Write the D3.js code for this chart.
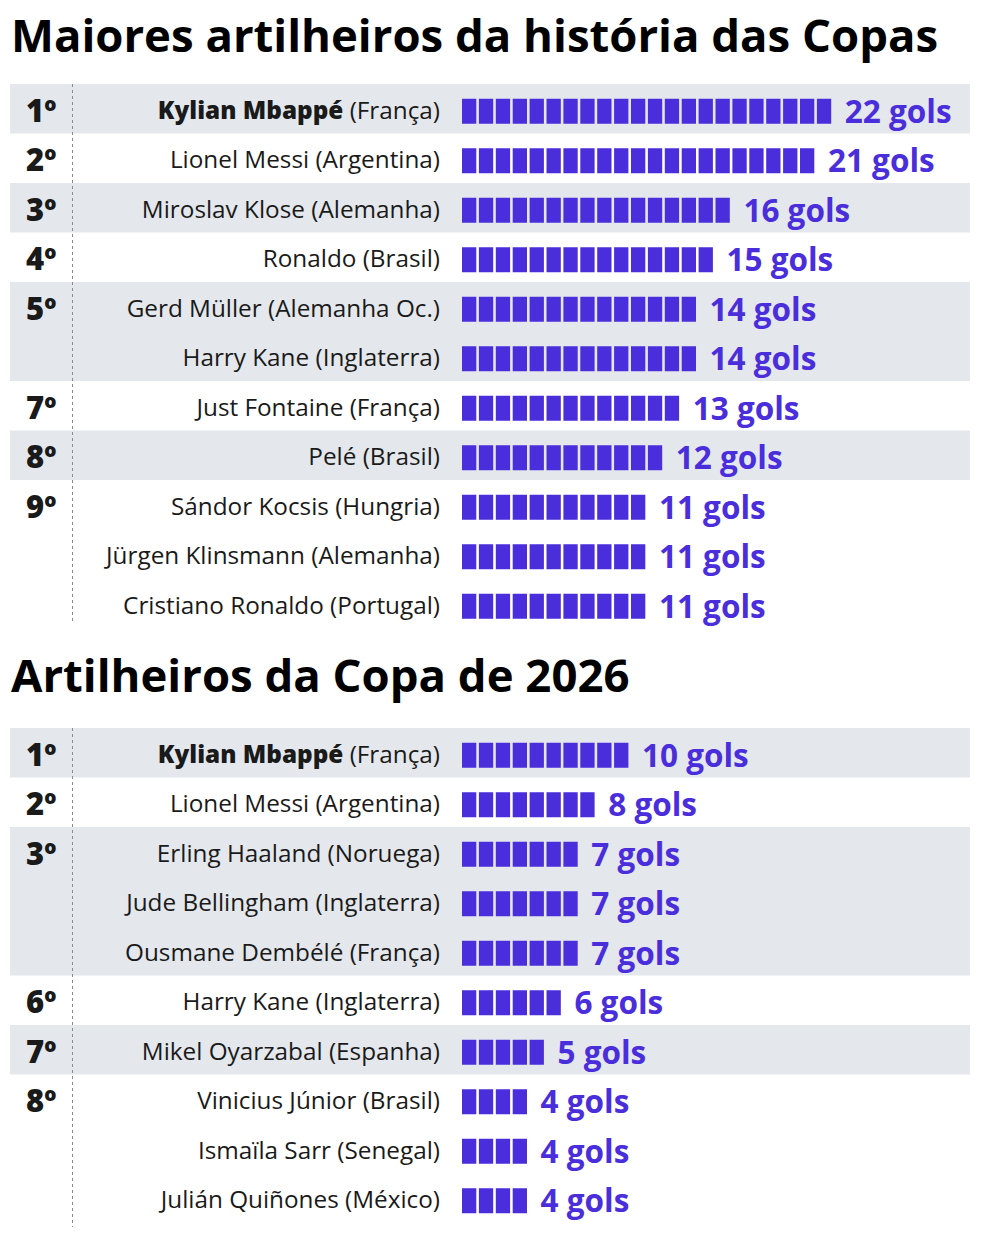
<!DOCTYPE html>
<html>
<head>
<meta charset="utf-8">
<script src="https://cdn.jsdelivr.net/npm/d3@7"></script>
<style>
  body { margin: 0; background: #fff; }
  text { font-family: "Open Sans", sans-serif; }
</style>
</head>
<body>
<div class="chart"></div>
<script>
// section 1: all-time World Cup top scorers
const allTimeRanks = ["1º", "2º", "3º", "4º", "5º", "", "7º", "8º", "9º", "", ""];
const allTimeNames = ["Kylian Mbappé", "Lionel Messi", "Miroslav Klose", "Ronaldo", "Gerd Müller", "Harry Kane",
    "Just Fontaine", "Pelé", "Sándor Kocsis", "Jürgen Klinsmann", "Cristiano Ronaldo"];
const allTimeCountries = ["França", "Argentina", "Alemanha", "Brasil", "Alemanha Oc.", "Inglaterra",
    "França", "Brasil", "Hungria", "Alemanha", "Portugal"];
const allTimeGoals = [22, 21, 16, 15, 14, 14, 13, 12, 11, 11, 11];
const allTimeGroup = [0, 1, 2, 3, 4, 4, 5, 6, 7, 7, 7];

// section 2: 2026 Cup top scorers
const cupRanks = ["1º", "2º", "3º", "", "", "6º", "7º", "8º", "", ""];
const cupNames = ["Kylian Mbappé", "Lionel Messi", "Erling Haaland", "Jude Bellingham", "Ousmane Dembélé",
    "Harry Kane", "Mikel Oyarzabal", "Vinicius Júnior", "Ismaïla Sarr", "Julián Quiñones"];
const cupCountries = ["França", "Argentina", "Noruega", "Inglaterra", "França",
    "Inglaterra", "Espanha", "Brasil", "Senegal", "México"];
const cupGoals = [10, 8, 7, 7, 7, 6, 5, 4, 4, 4];
const cupGroup = [0, 1, 2, 2, 2, 3, 4, 5, 5, 5];

const titles = ["Maiores artilheiros da história das Copas", "Artilheiros da Copa de 2026"];

/* Dimensions */
const width = 984;
const height = 1237;
const rowH = 49.5;
const barColor = "#4a2edb";
const bandColor = "#e4e8ec";

const svg = d3.select(".chart")
    .append("svg")
    .attr("width", width)
    .attr("height", height);

// one unit of goals = one block
const xScale = d3.scaleLinear()
    .domain([0, 22])
    .range([462, 462 + 22 * 16.9]);

function drawSection(title, titleY, top, ranks, names, countries, goals, groups, lineEnd) {
    const n = names.length;
    const rows = d3.range(n).map(i => ({
        rank: ranks[i], name: names[i], country: countries[i], goals: goals[i], group: groups[i], i: i
    }));

    const yScale = d3.scaleBand()
        .domain(d3.range(n))
        .range([top, top + n * rowH]);

    // title
    svg.append("text")
        .attr("x", 11)
        .attr("y", titleY)
        .style("font-size", "45.5px")
        .style("font-weight", "bold")
        .style("fill", "#000")
        .text(title);

    // background bands, alternate per rank group
    const g = svg.append("g");
    const groupIds = Array.from(new Set(groups));
    groupIds.forEach((gid, k) => {
        if (k % 2 !== 0) return;
        const members = rows.filter(d => d.group === gid);
        const y0 = yScale(members[0].i);
        const y1 = yScale(members[members.length - 1].i) + yScale.bandwidth();
        g.append("rect")
            .attr("x", 10)
            .attr("y", y0)
            .attr("width", 960)
            .attr("height", y1 - y0)
            .attr("fill", bandColor);
    });

    // dashed separator
    svg.append("line")
        .attr("x1", 72.5)
        .attr("x2", 72.5)
        .attr("y1", top)
        .attr("y2", lineEnd)
        .attr("stroke", "#8a8a8a")
        .attr("stroke-width", 1)
        .attr("stroke-dasharray", "3,3");

    const row = svg.selectAll(null)
        .data(rows)
        .enter()
        .append("g")
        .attr("transform", d => `translate(0,${yScale(d.i) + yScale.bandwidth() / 2})`);

    // rank
    row.append("text")
        .attr("x", 26)
        .attr("y", 0)
        .attr("dy", "0.42em")
        .style("font-size", "31px")
        .style("font-weight", 800)
        .style("fill", "#1a1a1a")
        .text(d => d.rank);

    // name (country)
    const label = row.append("text")
        .attr("x", 440)
        .attr("y", 0)
        .attr("dy", "0.42em")
        .attr("text-anchor", "end")
        .style("font-size", "24.3px")
        .style("fill", "#1a1a1a");
    label.append("tspan")
        .style("font-weight", d => d.i === 0 ? 800 : 400)
        .text(d => d.name);
    label.append("tspan")
        .text(d => ` (${d.country})`);

    // blocks
    row.selectAll("rect")
        .data(d => d3.range(d.goals))
        .enter()
        .append("rect")
        .attr("x", k => xScale(k))
        .attr("y", -10)
        .attr("width", k => xScale(k + 1) - xScale(k) - 2.6)
        .attr("height", 25)
        .attr("fill", barColor);

    // value label
    row.append("text")
        .attr("x", d => xScale(d.goals) + 11)
        .attr("y", 0)
        .attr("dy", "0.44em")
        .style("font-size", "31.5px")
        .style("font-weight", "bold")
        .style("fill", barColor)
        .text(d => `${d.goals} gols`);
}

drawSection(titles[0], 52, 84, allTimeRanks, allTimeNames, allTimeCountries, allTimeGoals, allTimeGroup, 621);
drawSection(titles[1], 692, 728, cupRanks, cupNames, cupCountries, cupGoals, cupGroup, 1227);
</script>
</body>
</html>
